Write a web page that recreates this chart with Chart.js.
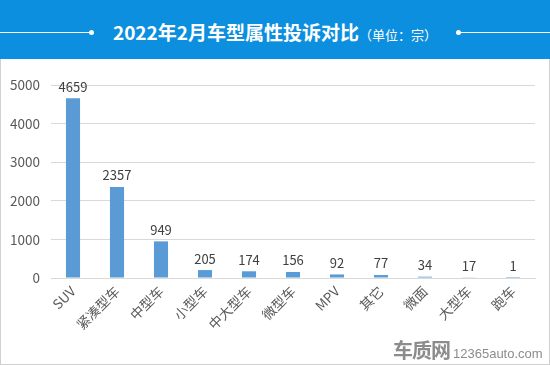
<!DOCTYPE html>
<html lang="zh">
<head>
    <meta charset="UTF-8">
    <title>2022年2月车型属性投诉对比</title>
    <script src="https://cdn.jsdelivr.net/npm/chart.js"></script>
    <style>
        html, body { margin: 0; padding: 0; background: #fff; }
        body { width: 550px; height: 365px; position: relative; overflow: hidden;
               font-family: "Microsoft YaHei", "Noto Sans CJK SC", "Noto Sans", sans-serif; }
        #header { position: absolute; left: 0; top: 0; width: 550px; height: 59px; background: #0c8fde; }
        #header .line { position: absolute; top: 32px; height: 1px; background: #fff; }
        #header .dot { position: absolute; top: 30px; width: 5px; height: 5px; border-radius: 50%; background: #fff; }
        #title { position: absolute; left: 0; width: 550px; top: 19px; text-align: center; color: #fff;
                 white-space: nowrap; line-height: 26px; }
        #title b { font-size: 19px; }
        #title span { font-size: 13px; font-weight: normal; }
        #panel { position: absolute; left: 0; top: 59px; width: 550px; height: 306px;
                 box-sizing: border-box; border: 1px solid #d0d0d0; border-top: none; }
        #chart-wrap { position: absolute; left: 0; top: 59px; width: 550px; height: 306px; }
        #mark { position: absolute; left: 393px; top: 335px; color: #8c8c8c; white-space: nowrap; }
        #mark b { font-size: 20px; letter-spacing: -1px; }
        #mark span { font-family: "Liberation Sans", Arial, sans-serif; font-size: 13px; margin-left: 3px; }
    </style>
</head>
<body>
    <div id="header">
        <div class="line" style="left:0;width:90px"></div>
        <div class="dot" style="left:89px"></div>
        <div class="dot" style="left:456px"></div>
        <div class="line" style="left:460px;width:90px"></div>
        <div id="title"><b>2022年2月车型属性投诉对比</b><span>（单位：宗）</span></div>
    </div>
    <div id="panel"></div>
    <div id="chart-wrap"><canvas id="bar-chart" width="550" height="306"></canvas></div>
    <div id="mark"><b>车质网</b><span>12365auto.com</span></div>

    <script>
        const categories = ['SUV', '紧凑型车', '中型车', '小型车', '中大型车', '微型车', 'MPV', '其它', '微面', '大型车', '跑车'];
        const complaints = [4659, 2357, 949, 205, 174, 156, 92, 77, 34, 17, 1];
        const yTicks = [0, 1000, 2000, 3000, 4000, 5000];

        const fontFamily = '"Microsoft YaHei", "Noto Sans CJK SC", "Noto Sans", sans-serif';

        // values above each bar
        const valueLabels = {
            id: 'valueLabels',
            afterDatasetsDraw(chart) {
                const ctx = chart.ctx;
                const meta = chart.getDatasetMeta(0);
                ctx.save();
                ctx.font = '13px ' + fontFamily;
                ctx.fillStyle = '#404040';
                ctx.textAlign = 'center';
                ctx.textBaseline = 'bottom';
                meta.data.forEach((bar, i) => {
                    ctx.fillText(String(complaints[i]), bar.x, bar.y - 5);
                });
                ctx.restore();
            }
        };

        new Chart(document.getElementById('bar-chart'), {
            type: 'bar',
            data: {
                labels: categories,
                datasets: [{
                    data: complaints,
                    backgroundColor: '#5b9bd5',
                    barPercentage: 0.32,
                    categoryPercentage: 1.0
                }]
            },
            options: {
                responsive: false,
                animation: false,
                layout: { padding: { top: 26, right: 15, left: 0, bottom: 0 } },
                plugins: { legend: { display: false }, tooltip: { enabled: false } },
                scales: {
                    x: {
                        grid: { display: false, drawTicks: false },
                        border: { display: true, color: '#d9d9d9' },
                        ticks: {
                            color: '#595959',
                            font: { family: fontFamily, size: 13.5 },
                            minRotation: 45,
                            maxRotation: 45,
                            padding: 5,
                            autoSkip: false
                        },
                        afterFit(axis) { axis.height = 87; }
                    },
                    y: {
                        min: 0,
                        max: 5000,
                        afterBuildTicks(axis) { axis.ticks = yTicks.map(v => ({ value: v })); },
                        grid: { color: '#d9d9d9', drawTicks: false },
                        border: { display: false },
                        ticks: {
                            color: '#595959',
                            font: { family: fontFamily, size: 13.5 },
                            padding: 11,
                            callback: v => String(v)
                        },
                        afterFit(axis) { axis.width = 51; }
                    }
                }
            },
            plugins: [valueLabels]
        });
    </script>
</body>
</html>
